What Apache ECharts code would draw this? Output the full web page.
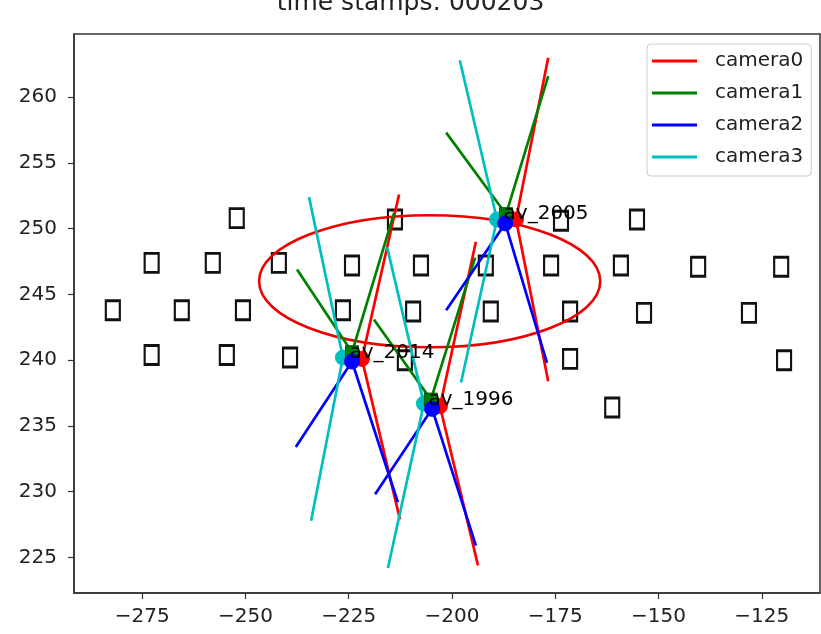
<!DOCTYPE html>
<html>
<head>
<meta charset="utf-8">
<script src="https://cdn.jsdelivr.net/npm/echarts@6/dist/echarts.min.js"></script>
<style>
  html, body { margin: 0; padding: 0; background: #fff; }
  #chart { width: 821px; height: 634px; }
</style>
</head>
<body>
<div id="chart"></div>
<script>
// tick labels
var xTicks = [-275, -250, -225, -200, -175, -150, -125];
var yTicks = [225, 230, 235, 240, 245, 250, 255, 260];

// other vehicles (box centres)
var boxes = [
  [-252.1, 250.8], [-213.8, 250.7], [-173.6, 250.6], [-155.2, 250.7],
  [-272.7, 247.4], [-257.9, 247.4], [-241.9, 247.4], [-224.2, 247.2], [-207.5, 247.2],
  [-191.8, 247.2], [-176.0, 247.2], [-159.1, 247.2], [-140.4, 247.1], [-120.3, 247.1],
  [-282.1, 243.8], [-265.4, 243.8], [-250.6, 243.8], [-226.4, 243.8], [-209.4, 243.7],
  [-190.6, 243.7], [-171.4, 243.7], [-153.5, 243.6], [-128.1, 243.6],
  [-272.7, 240.4], [-254.5, 240.4], [-239.2, 240.2], [-211.4, 240.0], [-171.4, 240.1],
  [-119.6, 240.0], [-161.2, 236.4]
];

// autonomous vehicles
var vehicles = ['av_2014', 'av_1996', 'av_2005'];

// camera positions per vehicle
var camPos0 = [[-221.8, 240.1], [-202.9, 236.5], [-184.5, 250.7]];
var camPos1 = [[-224.2, 240.6], [-205.1, 237.0], [-186.9, 251.1]];
var camPos2 = [[-224.2, 239.9], [-204.8, 236.3], [-187.1, 250.4]];
var camPos3 = [[-226.4, 240.2], [-206.8, 236.7], [-189.1, 250.7]];

// field of view end points per vehicle
var camEnds0 = [[[-212.8, 252.6], [-212.6, 227.9]], [[-194.2, 249.0], [-193.7, 224.4]], [[-176.7, 263.0], [-176.7, 238.4]]];
var camEnds1 = [[[-237.5, 246.9], [-214.0, 251.2]], [[-218.9, 243.1], [-194.4, 247.8]], [[-201.4, 257.3], [-176.7, 261.6]]];
var camEnds2 = [[[-237.8, 233.4], [-213.1, 229.2]], [[-218.6, 229.8], [-194.2, 225.9]], [[-201.4, 243.8], [-177.0, 239.8]]];
var camEnds3 = [[[-234.6, 252.4], [-234.1, 227.8]], [[-215.7, 248.6], [-215.5, 224.2]], [[-198.1, 262.8], [-197.8, 238.3]]];

// ellipse: centre x, centre y, radius x, radius y
var ellipse = [-205.4, 246.0, 41.3, 5.02];

var FONT = 'DejaVu Sans';
var camColors = ['#ff0000', '#008000', '#0000ff', '#00bfbf'];
var camPos = [camPos0, camPos1, camPos2, camPos3];
var camEnds = [camEnds0, camEnds1, camEnds2, camEnds3];

var chart = echarts.init(document.getElementById('chart'));

var series = [];

series.push({
  name: 'boxes',
  type: 'scatter',
  symbol: 'rect',
  symbolSize: [14, 19],
  itemStyle: { color: 'rgba(0,0,0,0)', borderColor: '#111', borderWidth: 2.5, opacity: 1 },
  data: boxes,
  silent: true,
  z: 1
});

series.push({
  name: 'ellipse',
  type: 'custom',
  data: [ellipse],
  encode: { x: 0, y: 1 },
  renderItem: function (params, api) {
    var c = api.coord([api.value(0), api.value(1)]);
    var s = api.size([api.value(2), api.value(3)]);
    return {
      type: 'ellipse',
      shape: { cx: c[0], cy: c[1], rx: s[0], ry: s[1] },
      style: { fill: 'none', stroke: '#ee0000', lineWidth: 2.6 }
    };
  },
  z: 3
});

// camera fields of view
for (var c = 0; c < 4; c++) {
  for (var v = 0; v < vehicles.length; v++) {
    series.push({
      name: 'camera' + c,
      type: 'line',
      symbol: 'none',
      color: camColors[c],
      lineStyle: { color: camColors[c], width: 2.7 },
      data: [camEnds[c][v][0], camPos[c][v], camEnds[c][v][1]],
      z: 4
    });
  }
}

// camera markers
var markerOrder = [3, 0, 1, 2];
markerOrder.forEach(function (c) {
  series.push({
    name: 'pos' + c,
    type: 'scatter',
    symbol: c === 1 ? 'rect' : 'circle',
    symbolSize: c === 1 ? 13 : 15,
    itemStyle: { color: camColors[c], borderColor: c === 1 ? '#0a4a0a' : camColors[c], borderWidth: 1, opacity: 1 },
    data: camPos[c],
    z: 5
  });
});

// vehicle names
series.push({
  name: 'names',
  type: 'scatter',
  symbolSize: 1,
  itemStyle: { color: 'rgba(0,0,0,0)', opacity: 1 },
  data: camPos1,
  label: {
    show: true,
    position: 'right',
    distance: -3,
    fontFamily: FONT,
    fontSize: 20,
    color: '#000',
    opacity: 1,
    formatter: function (p) { return vehicles[p.dataIndex]; }
  },
  z: 6
});

function minus(v) { return String(v).replace('-', '\u2212'); }

var option = {
  animation: false,
  backgroundColor: '#fff',
  title: {
    text: 'time stamps: 000203',
    left: 'center',
    top: -14,
    textStyle: { fontFamily: FONT, fontSize: 25, fontWeight: 'normal', color: '#222' }
  },
  legend: {
    data: ['camera0', 'camera1', 'camera2', 'camera3'],
    orient: 'vertical',
    left: 647,
    top: 44,
    icon: 'rect',
    itemWidth: 45,
    itemHeight: 3,
    itemGap: 12,
    padding: [7, 8, 9, 5],
    backgroundColor: '#fff',
    borderColor: '#cccccc',
    borderWidth: 1,
    borderRadius: 4,
    textStyle: { fontFamily: FONT, fontSize: 20, lineHeight: 20, color: '#222', padding: [0, 0, 0, 13] }
  },
  grid: {
    left: 74, right: 1, top: 34, bottom: 41,
    show: true, borderColor: '#333', borderWidth: 1.5
  },
  xAxis: {
    type: 'value',
    min: -291.5,
    max: -110.9,
    splitLine: { show: false },
    axisLine: { lineStyle: { color: '#333', width: 1.5 } },
    axisTick: { length: 6, lineStyle: { color: '#333', width: 1.2 }, customValues: xTicks },
    axisLabel: {
      customValues: xTicks,
      margin: 14,
      fontFamily: FONT, fontSize: 20, color: '#222',
      formatter: minus
    }
  },
  yAxis: {
    type: 'value',
    min: 222.3,
    max: 264.8,
    splitLine: { show: false },
    axisLine: { show: true, lineStyle: { color: '#333', width: 1.5 } },
    axisTick: { show: true, length: 6, lineStyle: { color: '#333', width: 1.2 }, customValues: yTicks },
    axisLabel: {
      customValues: yTicks,
      margin: 17,
      fontFamily: FONT, fontSize: 20, color: '#222',
      formatter: minus
    }
  },
  series: series
};

chart.setOption(option);
</script>
</body>
</html>
